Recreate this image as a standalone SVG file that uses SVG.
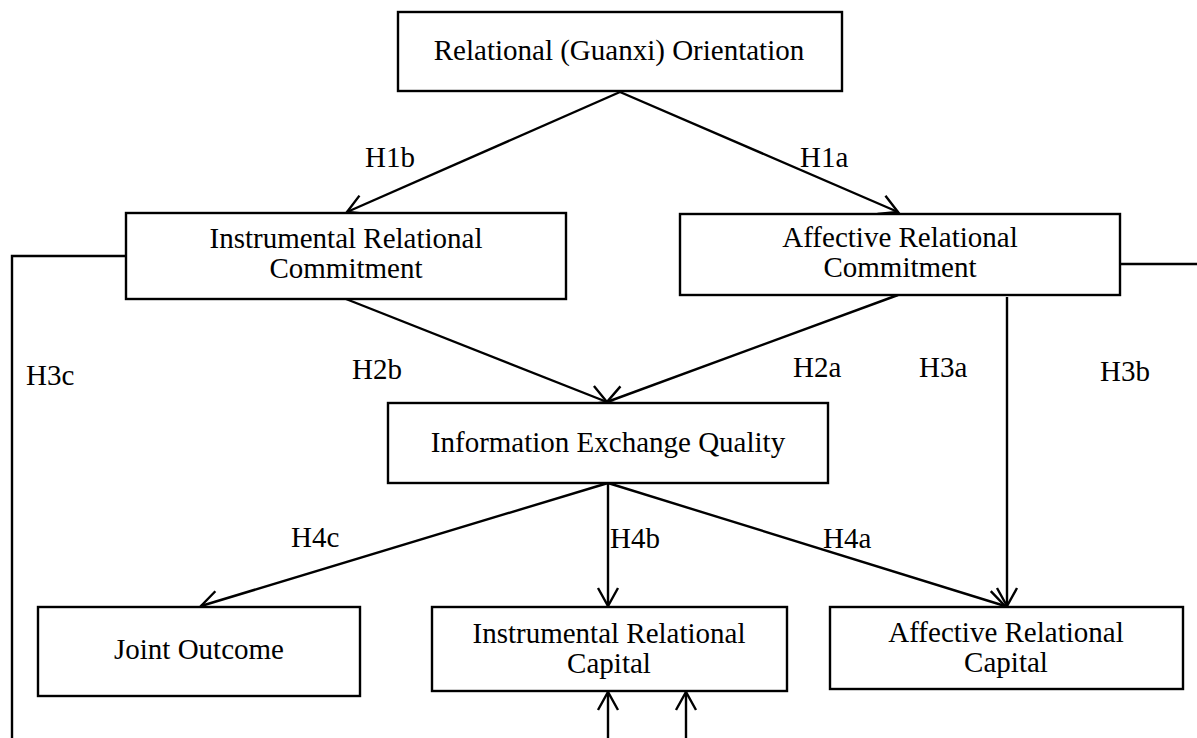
<svg xmlns="http://www.w3.org/2000/svg" width="1197" height="738" viewBox="0 0 1197 738">
<style>
.box{fill:#fff;stroke:#000;stroke-width:2.4}
.t{font-family:"Liberation Serif","Times New Roman",serif;font-size:29px;fill:#000}
.m{text-anchor:middle}
.c{fill:none;stroke:#000;stroke-width:2.4}
.a{marker-end:url(#arr)}
</style>
<defs>
<marker id="arr" markerUnits="userSpaceOnUse" markerWidth="22" markerHeight="22" refX="18" refY="10" orient="auto" overflow="visible">
<path d="M0,0 L18,10 L0,20" fill="none" stroke="#000" stroke-width="2.4"/>
</marker>
</defs>
<rect width="1197" height="738" fill="#fff"/>
<g id="connectors">
<path class="c a" d="M620,92 L347,212"/>
<path class="c a" d="M620,92 L898,212"/>
<path class="c a" d="M346,299 L607,402"/>
<path class="c a" d="M898,295 L607,402"/>
<path class="c a" d="M1007,297 L1007,606"/>
<path class="c a" d="M608,483 L201,606"/>
<path class="c a" d="M608,483 L608,606"/>
<path class="c a" d="M608,483 L1005,606"/>
<path class="c a" d="M608,738 L608,692"/>
<path class="c a" d="M686,738 L686,692"/>
<path class="c" d="M126,256 L12,256 L12,738"/>
<path class="c" d="M1120,264 L1197,264"/>
<g id="labels">
<text class="t" x="365" y="167">H1b</text>
<text class="t" x="800" y="167">H1a</text>
<text class="t" x="352" y="379">H2b</text>
<text class="t" x="793" y="377">H2a</text>
<text class="t" x="919" y="377">H3a</text>
<text class="t" x="1100" y="381">H3b</text>
<text class="t" x="26" y="385">H3c</text>
<text class="t" x="291" y="547">H4c</text>
<text class="t" x="610" y="548">H4b</text>
<text class="t" x="823" y="548">H4a</text>
</g>
</g>
<g id="guanxi">
<rect class="box" x="398" y="12" width="444" height="79"/>
<text class="t m" x="619" y="60">Relational (Guanxi) Orientation</text>
</g>
<g id="irc">
<rect class="box" x="126" y="213" width="440" height="86"/>
<text class="t m" x="346" y="248">Instrumental Relational</text>
<text class="t m" x="346" y="278">Commitment</text>
</g>
<g id="arc">
<rect class="box" x="680" y="214" width="440" height="81"/>
<text class="t m" x="900" y="247">Affective Relational</text>
<text class="t m" x="900" y="277">Commitment</text>
</g>
<g id="ieq">
<rect class="box" x="388" y="403" width="440" height="80"/>
<text class="t m" x="608" y="452">Information Exchange Quality</text>
</g>
<g id="joint">
<rect class="box" x="38" y="607" width="322" height="89"/>
<text class="t m" x="199" y="659">Joint Outcome</text>
</g>
<g id="ircap">
<rect class="box" x="432" y="607" width="355" height="84"/>
<text class="t m" x="609" y="643">Instrumental Relational</text>
<text class="t m" x="609" y="673">Capital</text>
</g>
<g id="arcap">
<rect class="box" x="830" y="607" width="353" height="82"/>
<text class="t m" x="1006" y="642">Affective Relational</text>
<text class="t m" x="1006" y="672">Capital</text>
</g>
</svg>
